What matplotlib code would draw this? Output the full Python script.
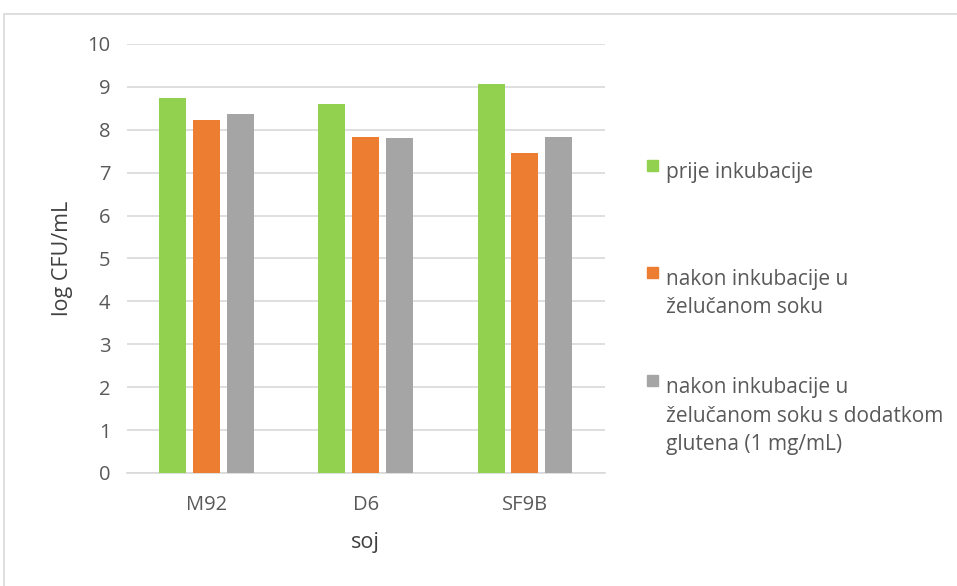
import matplotlib.pyplot as plt
from matplotlib.patches import Rectangle
import numpy as np

plt.rcParams['font.family'] = ['Open Sans', 'DejaVu Sans']

strains = ['M92', 'D6', 'SF9B']
series_names = ['prije inkubacije',
                'nakon inkubacije u\nželučanom soku',
                'nakon inkubacije u\nželučanom soku s dodatkom\nglutena (1 mg/mL)']
before = [8.75, 8.60, 9.06]
gastric = [8.23, 7.84, 7.45]
gastric_gluten = [8.37, 7.81, 7.84]
colors = ['#92d050', '#ed7d31', '#a5a5a5']
yticks = list(range(0, 11))

fig = plt.figure(figsize=(9.57, 5.86), dpi=100)
ax = fig.add_axes([0.1327, 0.193, 0.499, 0.732])

# outer chart frame
fig.add_artist(Rectangle((0.004, -0.01), 1.1, 0.986, transform=fig.transFigure,
                         fill=False, edgecolor='#d9d9d9', lw=1.2))

x = np.arange(len(strains))
w = 0.17
step = 0.213
for i, vals in enumerate([before, gastric, gastric_gluten]):
    ax.bar(x + (i - 1) * step, vals, width=w, color=colors[i], zorder=3)

ax.set_xlim(-0.5, len(strains) - 0.5)
ax.set_ylim(0, 10)
ax.set_yticks(yticks)
ax.grid(axis='y', color='#d9d9d9', lw=1.2, zorder=0)
for s in ['top', 'right', 'left']:
    ax.spines[s].set_visible(False)
ax.spines['bottom'].set_color('#d9d9d9')
ax.spines['bottom'].set_linewidth(1.2)
ax.tick_params(axis='both', length=0, labelsize=14.5, labelcolor='#595959')
ax.tick_params(axis='x', pad=16)
ax.tick_params(axis='y', pad=12)
ax.set_xticks(x)
ax.set_xticklabels(strains)
ax.set_xlabel('soj', fontsize=15.5, color='#404040', labelpad=12)
ax.set_ylabel('log CFU/mL', fontsize=15.5, color='#404040', labelpad=10)

# legend on the right
leg_y = [0.717, 0.535, 0.350]
for name, c, yy in zip(series_names, colors, leg_y):
    fig.add_artist(Rectangle((0.676, yy - 0.009), 0.0115, 0.019, transform=fig.transFigure,
                             color=c))
    fig.text(0.696, yy + 0.006, name, fontsize=15, color='#595959', va='top',
             ha='left', linespacing=1.47)

fig.savefig('out.png', dpi=100)
